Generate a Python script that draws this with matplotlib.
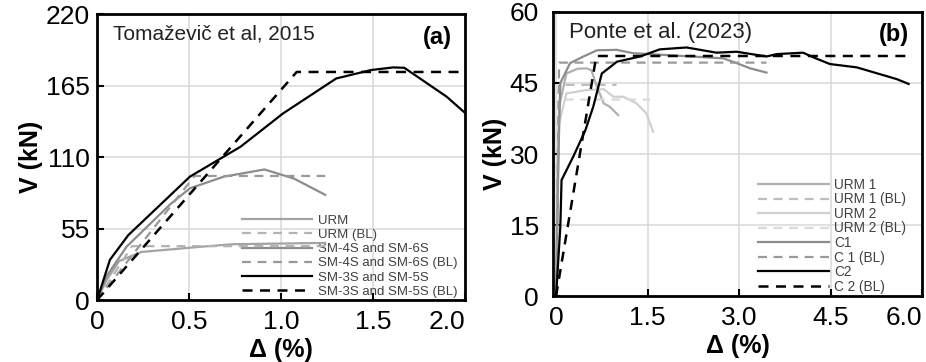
import matplotlib
matplotlib.use("Agg")
import matplotlib.pyplot as plt

plt.rcParams['font.family'] = ['Liberation Sans', 'DejaVu Sans']

# ---- Panel (a): Tomaževič et al, 2015 ----
urm_x = [0, 0.05, 0.12, 0.24, 0.56, 0.74, 1.0, 1.24]
urm_v = [0, 15, 30, 37, 41, 43, 43.5, 44]
urm_bl_x = [0, 0.19, 1.24]
urm_bl_v = [0, 41.5, 41.5]
sm46_x = [0, 0.05, 0.16, 0.40, 0.505, 0.69, 0.91, 1.07, 1.24]
sm46_v = [0, 18, 41, 74, 86, 95, 100.5, 93.5, 81]
sm46_bl_x = [0, 0.53, 1.24]
sm46_bl_v = [0, 95.5, 95.5]
sm35_x = [0, 0.07, 0.17, 0.505, 0.78, 1.01, 1.30, 1.49, 1.61, 1.67, 1.90, 2.0]
sm35_v = [0, 31, 50, 95, 118, 143.5, 170.5, 177, 179, 178.7, 156.5, 144]
sm35_bl_x = [0, 1.085, 2.0]
sm35_bl_v = [0, 175.5, 175.5]

# ---- Panel (b): Ponte et al. (2023) ----
urm1_x = [0, 0.03, 0.05, 0.17, 0.35, 0.50, 0.58, 0.67, 0.78, 0.88, 1.02]
urm1_v = [0, 25, 40, 47, 48, 48.1, 47.7, 44.2, 40.7, 40, 38.2]
urm1_bl_x = [0, 0.05, 0.99]
urm1_bl_v = [0, 44.6, 44.6]
urm2_x = [0, 0.02, 0.04, 0.17, 0.50, 0.78, 0.94, 1.10, 1.32, 1.48, 1.59]
urm2_v = [0, 22, 36, 42.8, 43.5, 43.7, 42.1, 42.1, 40.7, 38.6, 34.7]
urm2_bl_x = [0, 0.05, 1.54]
urm2_bl_v = [0, 41.5, 41.5]
c1_x = [0, 0.04, 0.07, 0.23, 0.45, 0.67, 0.99, 1.26, 1.81, 2.74, 2.96, 3.18, 3.45]
c1_v = [0, 30, 45, 49.2, 50.6, 51.9, 52, 51.3, 50.9, 50.2, 49.2, 48.1, 47.2]
c1_bl_x = [0, 0.05, 3.45]
c1_bl_v = [0, 49.3, 49.3]
c2_x = [0, 0.07, 0.09, 0.28, 0.48, 0.61, 0.75, 1.0, 1.38, 1.70, 2.14, 2.63, 2.96,
        3.45, 3.62, 4.05, 4.22, 4.49, 4.93, 5.59, 5.78]
c2_v = [0, 14.6, 24.5, 29.4, 35, 40, 47, 49.5, 50.6, 52.1, 52.5, 51.4, 51.6,
        50.6, 51.1, 51.4, 50.4, 49, 48.3, 45.8, 44.8]
c2_bl_x = [0, 0.66, 5.85]
c2_bl_v = [0, 50.7, 50.7]

fig = plt.figure(figsize=(9.26, 3.62), dpi=100)
ax1 = fig.add_axes([0.1048, 0.171, 0.3974, 0.790])
ax2 = fig.add_axes([0.5972, 0.182, 0.3985, 0.785])

dash = (0, (4, 3))


def style(ax, xlim, ylim, xticks, yticks, xlabels, title, tag, title_size, ypad):
    ax.set_xlim(*xlim)
    ax.set_ylim(*ylim)
    ax.set_xticks(xticks)
    ax.set_xticklabels(xlabels)
    ax.set_yticks(yticks)
    ax.grid(True, color='#d9d9d9', lw=1.1)
    ax.set_axisbelow(True)
    ax.tick_params(direction='in', length=5, width=1.5, labelsize=19)
    ax.tick_params(axis='x', pad=7)
    ax.tick_params(axis='y', pad=ypad)
    # last x label sits inside the panel like in the original
    ax.get_xticklabels()[-1].set_horizontalalignment('right')
    for s in ax.spines.values():
        s.set_linewidth(2.0)
    ax.set_xlabel('Δ (%)', fontsize=18, fontweight='bold', labelpad=3)
    ax.set_ylabel('V (kN)', fontsize=18, fontweight='bold', labelpad=2)
    ax.text(0.043, 0.965, title, transform=ax.transAxes, fontsize=title_size,
            va='top', ha='left', color='#222222')
    ax.text(0.965, 0.96, tag, transform=ax.transAxes, fontsize=17,
            fontweight='bold', va='top', ha='right')


# Panel (a)
ax1.plot(urm_x, urm_v, color='#a3a3a3', lw=1.6, label='URM')
ax1.plot(urm_bl_x, urm_bl_v, color='#b3b3b3', lw=1.6, ls=dash, label='URM (BL)')
ax1.plot(sm46_x, sm46_v, color='#8c8c8c', lw=1.6, label='SM-4S and SM-6S')
ax1.plot(sm46_bl_x, sm46_bl_v, color='#999999', lw=1.6, ls=dash, label='SM-4S and SM-6S (BL)')
ax1.plot(sm35_x, sm35_v, color='black', lw=1.6, label='SM-3S and SM-5S')
ax1.plot(sm35_bl_x, sm35_bl_v, color='black', lw=1.8, ls=dash, label='SM-3S and SM-5S (BL)')
style(ax1, (0, 2.0), (0, 220), [0, 0.5, 1.0, 1.5, 2.0], [0, 55, 110, 165, 220],
      ['0', '0.5', '1.0', '1.5', '2.0'], 'Tomaževič et al, 2015', '(a)', 15, 5)
leg1 = ax1.legend(loc='lower right', bbox_to_anchor=(1.0, -0.02), frameon=False,
                  fontsize=9.5, handlelength=5.3, handletextpad=0.4,
                  labelspacing=0.15, borderaxespad=0.2, labelcolor='#404040')
leg1.set_zorder(1)

# Panel (b)
ax2.plot(urm1_x, urm1_v, color='#b0b0b0', lw=1.6, label='URM 1')
ax2.plot(urm1_bl_x, urm1_bl_v, color='#bdbdbd', lw=1.6, ls=dash, label='URM 1 (BL)')
ax2.plot(urm2_x, urm2_v, color='#d0d0d0', lw=1.6, label='URM 2')
ax2.plot(urm2_bl_x, urm2_bl_v, color='#dadada', lw=1.6, ls=dash, label='URM 2 (BL)')
ax2.plot(c1_x, c1_v, color='#8c8c8c', lw=1.6, label='C1')
ax2.plot(c1_bl_x, c1_bl_v, color='#999999', lw=1.6, ls=dash, label='C 1 (BL)')
ax2.plot(c2_x, c2_v, color='black', lw=1.6, label='C2')
ax2.plot(c2_bl_x, c2_bl_v, color='black', lw=1.8, ls=dash, label='C 2 (BL)')
style(ax2, (-0.05, 6.0), (0, 60), [0, 1.5, 3.0, 4.5, 6.0], [0, 15, 30, 45, 60],
      ['0', '1.5', '3.0', '4.5', '6.0'], 'Ponte et al. (2023)', '(b)', 16, 10)
leg2 = ax2.legend(loc='lower right', bbox_to_anchor=(0.98, -0.02), frameon=False,
                  fontsize=9.8, handlelength=5.2, handletextpad=0.4,
                  labelspacing=0.04, borderaxespad=0.2, labelcolor='#404040')
leg2.set_zorder(1)

fig.savefig('out.png', dpi=100)
